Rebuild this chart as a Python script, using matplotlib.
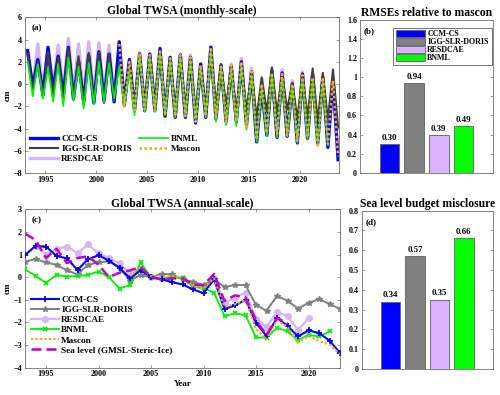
import numpy as np
import matplotlib
matplotlib.use("Agg")
import matplotlib.pyplot as plt

plt.rcParams['font.family'] = ['Liberation Serif', 'DejaVu Serif']
plt.rcParams['font.weight'] = 'bold'
plt.rcParams['axes.titleweight'] = 'bold'
plt.rcParams['axes.labelweight'] = 'bold'

# ---------------- data: panel (a) monthly (seasonal peaks / troughs) ----------------
yrs_all = list(range(1993, 2024))
ccm_pk = [3.0, 2.2, 3.3, 2.5, 3.3, 2.1, 2.6, 2.9, 2.7, 3.8, 2.2, 2.7, 2.7, 3.2, 2.4, 2.6, 2.4, 1.8, 3.3, 1.7,
          1.6, 2.0, 1.1, -0.4, 1.2, 1.0, 0.0, 0.9, 0.9, 0.6, 0.4]
ccm_tr = [-0.3, -1.0, -0.6, -1.1, -1.3, -1.6, -1.7, -1.5, -1.6, -1.9, -2.4, -2.4, -2.4, -2.9, -3.0, -3.0, -3.5,
          -3.0, -3.1, -3.4, -3.4, -3.7, -5.2, -4.6, -4.8, -4.7, -5.3, -4.9, -5.3, -5.7, -6.8]
igg_pk = [2.7, 2.0, 2.9, 2.4, 3.3, 2.5, 2.8, 2.9, 2.7, 2.0, 2.0, 2.6, 2.5, 3.0, 2.3, 2.5, 2.3, 1.6, 3.1, 1.8,
          1.6, 1.5, 1.0, 0.6, 1.5, 0.9, 0.1, 0.8, 1.4, 1.0, 1.3]
igg_tr = [-0.5, -1.2, -1.0, -1.2, -1.4, -1.9, -1.7, -1.7, -1.5, -1.9, -2.2, -2.1, -2.2, -2.6, -2.6, -2.6, -3.0,
          -2.5, -2.1, -2.0, -2.7, -2.3, -3.0, -2.5, -2.6, -2.3, -3.1, -3.0, -3.3, -3.2, -3.9]
res_yrs = list(range(1993, 2021))
res_pk = [2.6, 3.6, 3.0, 3.5, 4.1, 3.6, 3.8, 3.7, 3.5, 3.3, 2.0, 2.8, 2.6, 3.0, 2.2, 2.7, 2.6, 1.8, 3.4, 1.6,
          1.8, 2.3, 1.4, 0.5, 1.3, 1.3, 0.3, 1.1]
res_tr = [-0.2, -0.5, -0.4, -0.7, -0.9, -1.2, -1.2, -1.0, -1.2, -1.5, -2.1, -2.0, -2.1, -2.6, -2.7, -2.7, -3.2,
          -2.7, -2.9, -3.2, -3.1, -3.4, -4.6, -4.3, -4.4, -4.5, -4.9, -4.6]
bnml_yrs = list(range(1993, 2023))
bnml_pk = [2.0, 1.8, 1.4, 1.8, 2.4, 1.6, 1.9, 2.0, 1.9, 1.6, 1.2, 2.6, 2.4, 2.9, 2.1, 2.4, 2.2, 1.5, 3.0, 1.4,
           1.3, 1.7, 0.8, -0.4, 0.9, 0.6, -0.3, 0.5, 0.3, 0.2]
bnml_tr = [-1.1, -1.3, -1.6, -2.0, -1.5, -2.2, -1.8, -1.6, -1.3, -2.0, -2.8, -2.5, -2.5, -2.8, -3.0, -2.9, -3.3,
           -3.0, -3.4, -3.7, -3.8, -4.1, -5.2, -4.7, -4.8, -4.7, -5.3, -5.0, -5.4, -5.5]
mas_yrs = list(range(2002, 2024))
mas_pk = [3.6, 2.0, 2.8, 2.6, 3.1, 2.3, 2.6, 2.4, 1.7, 3.3, 1.7, 1.7, 2.0, 1.3, 0.0, 1.0, 0.9, 0.0, 0.8, 0.6,
          0.6, 0.3]
mas_tr = [-2.0, -2.4, -2.3, -2.4, -2.8, -2.9, -2.9, -3.4, -2.9, -3.1, -3.4, -3.4, -3.9, -5.0, -4.4, -4.5, -4.6,
          -5.1, -4.8, -5.7, -5.4, -6.5]
peak_phase = 0.26
trough_phase = 0.76

# ---------------- data: panel (c) annual ----------------
ann_ccm_yrs = list(range(1993, 2024))
ann_ccm = [0.98, 1.38, 1.35, 0.94, 0.83, 0.32, 0.79, 0.97, 0.73, 0.42, -0.05, 0.30, 0.02, -0.09, -0.22, -0.32,
           -0.54, -0.71, -0.09, -1.40, -1.25, -1.00, -2.02, -2.60, -1.80, -2.15, -2.62, -2.35, -2.47, -2.80, -3.35]
ann_igg_yrs = list(range(1993, 2024))
ann_igg = [0.68, 0.80, 0.65, 0.55, 0.30, 0.12, 0.55, 0.65, 0.71, 0.40, -0.15, 0.10, 0.00, 0.15, 0.12, -0.09,
           -0.20, -0.35, -0.09, -0.43, -0.35, -0.35, -1.23, -1.48, -0.83, -1.04, -1.39, -1.13, -0.97, -1.18, -1.40]
ann_res_yrs = list(range(1994, 2021))
ann_res = [1.38, 1.00, 1.25, 1.35, 1.05, 1.45, 1.05, 0.85, 0.62, 0.15, 0.35, 0.00, -0.05, 0.00, -0.05, -0.35,
           -0.45, -0.05, -1.15, -0.90, -0.68, -1.85, -2.18, -1.55, -1.72, -2.33, -1.82]
ann_bnml_yrs = list(range(1993, 2023))
ann_bnml = [0.35, 0.05, -0.25, 0.10, 0.03, 0.05, 0.10, 0.25, 0.00, -0.50, -0.35, 0.65, 0.00, -0.10, 0.02, -0.05,
            -0.42, -0.49, -0.68, -1.71, -1.60, -1.68, -2.66, -2.68, -2.23, -2.40, -2.78, -2.55, -2.62, -2.40]
ann_mas_yrs = list(range(2003, 2024))
ann_mas = [0.05, 0.45, 0.05, 0.00, 0.05, -0.05, -0.40, -0.50, -0.05, -1.30, -1.20, -1.00, -2.30, -2.75, -1.90,
           -2.20, -2.90, -2.60, -2.82, -2.98, -3.40]
ann_sl_yrs = list(range(1993, 2019))
ann_sl = [1.92, 1.65, 0.85, 1.25, 0.62, 0.85, 0.92, 0.55, 0.00, 0.20, 0.30, 0.45, 0.00, -0.10, -0.05, -0.05,
          -0.33, -0.35, 0.14, -1.05, -0.80, -0.90, -1.90, -2.55, -1.80, -2.04]

# ---------------- data: bar panels ----------------
bar_names = ['CCM-CS', 'IGG-SLR-DORIS', 'RESDCAE', 'BNML']
rmse_vals = [0.30, 0.94, 0.39, 0.49]
misclosure_vals = [0.34, 0.57, 0.35, 0.66]

# ---------------- styles ----------------
C_BLUE = '#0000FF'
C_GRAY_A = '#404040'
C_GRAY = '#808080'
C_PURP = '#D6B4F7'
C_GREEN = '#00EE00'
C_ORANGE = '#F5A623'
C_MAG = '#C000C0'
bar_colors = ['#0000FF', '#808080', '#D9B3FF', '#00FF00']
SPINE = '#707070'


def zigzag(years, pk, tr):
    t, v = [], []
    for y, p, q in zip(years, pk, tr):
        t += [y + peak_phase, y + trough_phase]
        v += [p, q]
    return np.array(t), np.array(v)


def style_axes(ax, fs=5.9):
    ax.tick_params(direction='in', top=True, right=True, length=2.5, width=0.5,
                   labelsize=fs, pad=2, colors='black')
    for tl in ax.get_xticklabels() + ax.get_yticklabels():
        tl.set_fontweight('bold')
    for s in ax.spines.values():
        s.set_linewidth(0.6)
        s.set_color(SPINE)
    ax.tick_params(which='both', color=SPINE)


W, H = 500, 395
fig = plt.figure(figsize=(W / 100, H / 100), dpi=100)


def ax_px(l, t, r, b):
    return fig.add_axes([l / W, 1 - b / H, (r - l) / W, (b - t) / H])


ax_a = ax_px(25, 17.3, 339, 173)
ax_c = ax_px(25, 209.3, 340, 367.7)
ax_b = ax_px(360, 20, 493, 172.7)
ax_d = ax_px(361.5, 210.7, 493, 369)

# ---------------- panel (a) ----------------
t, v = zigzag(res_yrs, res_pk, res_tr)
h_res, = ax_a.plot(t, v, color=C_PURP, lw=2.4, zorder=1, label='RESDCAE')
t, v = zigzag(yrs_all, ccm_pk, ccm_tr)
h_ccm, = ax_a.plot(t, v, color=C_BLUE, lw=2.4, zorder=2, label='CCM-CS')
t, v = zigzag(yrs_all, igg_pk, igg_tr)
h_igg, = ax_a.plot(t, v, color=C_GRAY_A, lw=1.5, zorder=3, label='IGG-SLR-DORIS')
t, v = zigzag(bnml_yrs, bnml_pk, bnml_tr)
h_bnml, = ax_a.plot(t, v, color=C_GREEN, lw=1.2, zorder=4, label='BNML')
t, v = zigzag(mas_yrs, mas_pk, mas_tr)
h_mas, = ax_a.plot(t, v, color=C_ORANGE, lw=1.8, ls=(0, (1, 1)), zorder=5, label='Mascon')

ax_a.set_xlim(1993.0, 2023.85)
ax_a.set_ylim(-8, 6)
ax_a.set_xticks([1995, 2000, 2005, 2010, 2015, 2020])
ax_a.set_yticks(np.arange(-8, 7, 2))
ax_a.set_ylabel('cm', fontsize=6.5, labelpad=1)
ax_a.set_title('Global TWSA (monthly-scale)', fontsize=8.4, pad=2.5)
ax_a.text(0.02, 0.93, '(a)', transform=ax_a.transAxes, fontsize=6.5, fontweight='bold', va='center')
leg = ax_a.legend(handles=[h_ccm, h_igg, h_res, h_bnml, h_mas], ncol=2, loc='upper left',
                  bbox_to_anchor=(0.015, 0.245), frameon=False, fontsize=6.6, handlelength=3.1,
                  handletextpad=0.35, labelspacing=0.15, columnspacing=0.8, borderpad=0, borderaxespad=0)
for txt in leg.get_texts():
    txt.set_fontweight('bold')
style_axes(ax_a)

# ---------------- panel (c) ----------------
ax_c.plot(ann_res_yrs, ann_res, color=C_PURP, lw=1.6, marker='o', ms=4, mfc=C_PURP, mec=C_PURP,
          zorder=1, label='RESDCAE')
ax_c.plot(ann_igg_yrs, ann_igg, color=C_GRAY, lw=1.4, marker='*', ms=4, zorder=2, label='IGG-SLR-DORIS')
ax_c.plot(ann_bnml_yrs, ann_bnml, color=C_GREEN, lw=1.3, marker='x', ms=3.5, mew=1.2, zorder=3, label='BNML')
ax_c.plot(ann_ccm_yrs, ann_ccm, color=C_BLUE, lw=1.5, marker='+', ms=5, mew=1.3, zorder=4, label='CCM-CS')
ax_c.plot(ann_mas_yrs, ann_mas, color=C_ORANGE, lw=1.6, ls=(0, (1, 1)), zorder=5, label='Mascon')
ax_c.plot(ann_sl_yrs, ann_sl, color=C_MAG, lw=1.8, ls=(0, (4, 2)), zorder=6,
          label='Sea level (GMSL-Steric-Ice)')
hs, ls_ = ax_c.get_legend_handles_labels()
order = ['CCM-CS', 'IGG-SLR-DORIS', 'RESDCAE', 'BNML', 'Mascon', 'Sea level (GMSL-Steric-Ice)']
hmap = dict(zip(ls_, hs))
leg = ax_c.legend([hmap[k] for k in order], order, loc='upper left', bbox_to_anchor=(0.018, 0.455),
                  frameon=False, fontsize=6.7, handlelength=3.0, handletextpad=0.3, labelspacing=0.17,
                  borderpad=0, borderaxespad=0)
for txt in leg.get_texts():
    txt.set_fontweight('bold')
ax_c.set_xlim(1993, 2023)
ax_c.set_ylim(-4, 3)
ax_c.set_xticks([1995, 2000, 2005, 2010, 2015, 2020])
ax_c.set_yticks(np.arange(-4, 4, 1))
ax_c.set_ylabel('cm', fontsize=6.5, labelpad=1)
ax_c.set_xlabel('Year', fontsize=6.5, labelpad=1)
ax_c.set_title('Global TWSA (annual-scale)', fontsize=8.4, pad=2.5)
ax_c.text(0.02, 0.93, '(c)', transform=ax_c.transAxes, fontsize=6.5, fontweight='bold', va='center')
style_axes(ax_c)

# ---------------- panel (b) ----------------
xpos = np.arange(1, len(bar_names) + 1)
bars = ax_b.bar(xpos, rmse_vals, width=0.8, color=bar_colors, edgecolor='#606060', linewidth=0.6)
for b_, val in zip(bars, rmse_vals):
    ax_b.text(b_.get_x() + b_.get_width() / 2, val + 0.025, f'{val:.2f}', ha='center', va='bottom',
              fontsize=6.3, fontweight='bold')
ax_b.set_xlim(-0.2, 5.2)
ax_b.set_ylim(0, 1.6)
ax_b.set_xticks([])
yt = np.round(np.arange(0, 1.61, 0.2), 1)
ax_b.set_yticks(yt)
ax_b.set_yticklabels([('%g' % y) for y in yt])
ax_b.set_title('RMSEs relative to mascon', fontsize=8.4, pad=3)
ax_b.text(0.03, 0.925, '(b)', transform=ax_b.transAxes, fontsize=6.5, fontweight='bold', va='center')
leg = ax_b.legend(bars, bar_names, loc='upper right', bbox_to_anchor=(0.99, 0.95), fontsize=5.8,
                  handlelength=3.6, handleheight=0.85, handletextpad=0.35, labelspacing=0.0,
                  borderpad=0.35, borderaxespad=0, fancybox=False, framealpha=1, edgecolor='#606060')
leg.get_frame().set_linewidth(0.6)
for txt in leg.get_texts():
    txt.set_fontweight('bold')
style_axes(ax_b, fs=5.8)
ax_b.tick_params(axis='x', which='both', top=False, bottom=False)

# ---------------- panel (d) ----------------
bars = ax_d.bar(xpos, misclosure_vals, width=0.8, color=bar_colors, edgecolor='#606060', linewidth=0.6)
for b_, val in zip(bars, misclosure_vals):
    ax_d.text(b_.get_x() + b_.get_width() / 2, val + 0.012, f'{val:.2f}', ha='center', va='bottom',
              fontsize=6.3, fontweight='bold')
ax_d.set_xlim(-0.2, 5.2)
ax_d.set_ylim(0, 0.8)
ax_d.set_xticks([])
yt = np.round(np.arange(0, 0.81, 0.1), 1)
ax_d.set_yticks(yt)
ax_d.set_yticklabels([('%g' % y) for y in yt])
ax_d.set_title('Sea level budget misclosure', fontsize=8.4, pad=3)
ax_d.text(0.03, 0.925, '(d)', transform=ax_d.transAxes, fontsize=6.5, fontweight='bold', va='center')
style_axes(ax_d, fs=5.8)
ax_d.tick_params(axis='x', which='both', top=False, bottom=False)

fig.savefig('out.png', dpi=100)
